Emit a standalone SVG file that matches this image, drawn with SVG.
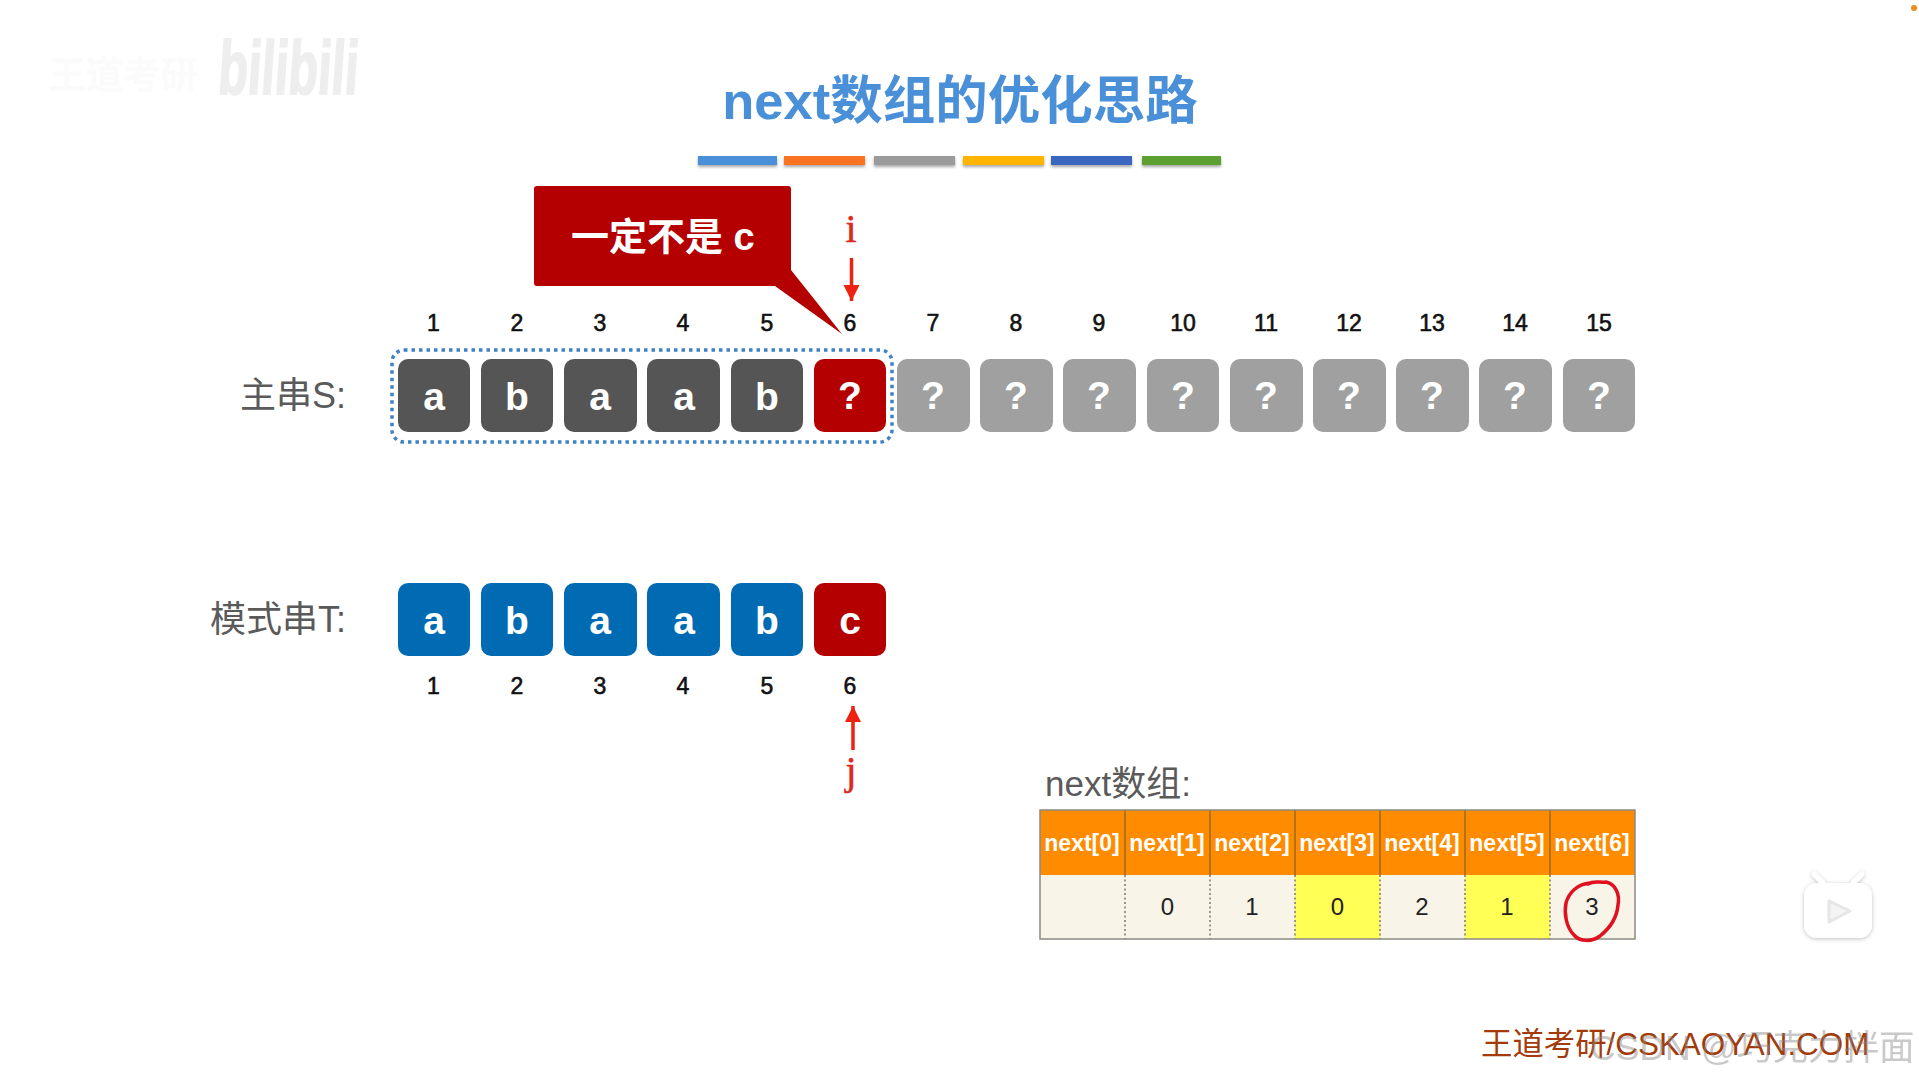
<svg xmlns="http://www.w3.org/2000/svg" width="1919" height="1079" viewBox="0 0 1919 1079">
<style>
text{font-family:"Liberation Sans","Noto Sans CJK SC",sans-serif}
.cell rect{stroke:none}
.cell text{fill:#fff;font-size:39px;font-weight:700;text-anchor:middle}
.dark rect{fill:#555}
.grey rect{fill:#a0a0a0}
.red rect{fill:#b40000}
.blue rect{fill:#006bb3}
.num{font-size:23px;fill:#111;text-anchor:middle;stroke:#111;stroke-width:.6}
.lab{font-size:36px;fill:#5a5a5a}
.ptr{font-family:"Liberation Serif",serif;font-size:40px;fill:#e0281a;text-anchor:middle;stroke:#e0281a;stroke-width:.5}
.hd{fill:#ff8c00}
.hdt{font-size:23px;font-weight:700;fill:#fff;text-anchor:middle}
.val{font-size:24px;fill:#222;text-anchor:middle}
.sep{stroke:#9a6a20;stroke-width:1.5}
.dot{stroke:#777;stroke-width:1.5;stroke-dasharray:2 2.5}
</style>
<defs>
<marker id="ah" markerUnits="userSpaceOnUse" markerWidth="18" markerHeight="18" refX="16" refY="8" orient="auto"><path d="M0 0L16 8L0 16Z" fill="#ee2211"/></marker>
<filter id="sh" x="-10%" y="-50%" width="120%" height="220%"><feDropShadow dx="0" dy="2" stdDeviation="1.5" flood-color="#000" flood-opacity=".35"/></filter>
<filter id="sh2" x="-30%" y="-30%" width="160%" height="160%"><feDropShadow dx="0" dy="1" stdDeviation="2" flood-color="#000" flood-opacity=".25"/></filter>
</defs>
<rect width="1919" height="1079" fill="#fff"/>
<g id="watermark-top">
<text x="48" y="88" font-size="38" font-weight="700" fill="#fbfbfb" textLength="150" lengthAdjust="spacingAndGlyphs">王道考研</text>
<text transform="translate(217 94) skewX(-4)" font-size="76" font-weight="700" fill="#eeeeee" stroke="#eeeeee" stroke-width="2" textLength="140" lengthAdjust="spacingAndGlyphs">bilibili</text>
</g>
<circle cx="1914" cy="8" r="3" fill="#f08a1c"/>
<g id="title">
<text x="960" y="119" font-size="52.500" font-weight="700" fill="#4a90d9" text-anchor="middle">next数组的优化思路</text>
<g filter="url(#sh)">
<rect x="698" y="156" width="79" height="9" fill="#4a90d9"/>
<rect x="784" y="156" width="81" height="9" fill="#f97320"/>
<rect x="874" y="156" width="81" height="9" fill="#9b9b9b"/>
<rect x="963" y="156" width="81" height="9" fill="#ffb400"/>
<rect x="1051" y="156" width="81" height="9" fill="#3a66c0"/>
<rect x="1142" y="156" width="79" height="9" fill="#5ba033"/>
</g>
</g>
<g id="label-s"><text class="lab" x="346" y="408" text-anchor="end">主串S:</text></g>
<g id="label-t"><text class="lab" x="346" y="632" text-anchor="end">模式串T:</text></g>
<g id="s-numbers">
<text class="num" x="433.500" y="331">1</text><text class="num" x="517" y="331">2</text><text class="num" x="600" y="331">3</text><text class="num" x="683" y="331">4</text><text class="num" x="767" y="331">5</text><text class="num" x="850" y="331">6</text><text class="num" x="933" y="331">7</text><text class="num" x="1016" y="331">8</text><text class="num" x="1099" y="331">9</text><text class="num" x="1183" y="331">10</text><text class="num" x="1266" y="331">11</text><text class="num" x="1349" y="331">12</text><text class="num" x="1432" y="331">13</text><text class="num" x="1515" y="331">14</text><text class="num" x="1599" y="331">15</text>
</g>
<g id="s-cell-1" class="cell dark"><rect x="398" y="359" width="72" height="73" rx="10"/><text x="434" y="410">a</text></g>
<g id="s-cell-2" class="cell dark"><rect x="481" y="359" width="72" height="73" rx="10"/><text x="517" y="410">b</text></g>
<g id="s-cell-3" class="cell dark"><rect x="564" y="359" width="73" height="73" rx="10"/><text x="600" y="410">a</text></g>
<g id="s-cell-4" class="cell dark"><rect x="647" y="359" width="73" height="73" rx="10"/><text x="684" y="410">a</text></g>
<g id="s-cell-5" class="cell dark"><rect x="731" y="359" width="72" height="73" rx="10"/><text x="767" y="410">b</text></g>
<g id="s-cell-6" class="cell red"><rect x="814" y="359" width="72" height="73" rx="10"/><text x="850" y="409">?</text></g>
<g id="s-cell-7" class="cell grey"><rect x="897" y="359" width="73" height="73" rx="10"/><text x="933" y="409">?</text></g>
<g id="s-cell-8" class="cell grey"><rect x="980" y="359" width="73" height="73" rx="10"/><text x="1016" y="409">?</text></g>
<g id="s-cell-9" class="cell grey"><rect x="1063" y="359" width="73" height="73" rx="10"/><text x="1099" y="409">?</text></g>
<g id="s-cell-10" class="cell grey"><rect x="1147" y="359" width="72" height="73" rx="10"/><text x="1183" y="409">?</text></g>
<g id="s-cell-11" class="cell grey"><rect x="1230" y="359" width="73" height="73" rx="10"/><text x="1266" y="409">?</text></g>
<g id="s-cell-12" class="cell grey"><rect x="1313" y="359" width="73" height="73" rx="10"/><text x="1349" y="409">?</text></g>
<g id="s-cell-13" class="cell grey"><rect x="1396" y="359" width="73" height="73" rx="10"/><text x="1432" y="409">?</text></g>
<g id="s-cell-14" class="cell grey"><rect x="1479" y="359" width="73" height="73" rx="10"/><text x="1515" y="409">?</text></g>
<g id="s-cell-15" class="cell grey"><rect x="1563" y="359" width="72" height="73" rx="10"/><text x="1599" y="409">?</text></g>
<g id="match-box"><rect x="392" y="350" width="500" height="92" rx="12" fill="none" stroke="#3f82c4" stroke-width="3.500" stroke-dasharray="3.500 4"/></g>
<g id="t-cell-1" class="cell blue"><rect x="398" y="583" width="72" height="73" rx="10"/><text x="434" y="634">a</text></g>
<g id="t-cell-2" class="cell blue"><rect x="481" y="583" width="72" height="73" rx="10"/><text x="517" y="634">b</text></g>
<g id="t-cell-3" class="cell blue"><rect x="564" y="583" width="73" height="73" rx="10"/><text x="600" y="634">a</text></g>
<g id="t-cell-4" class="cell blue"><rect x="647" y="583" width="73" height="73" rx="10"/><text x="684" y="634">a</text></g>
<g id="t-cell-5" class="cell blue"><rect x="731" y="583" width="72" height="73" rx="10"/><text x="767" y="634">b</text></g>
<g id="t-cell-6" class="cell red"><rect x="814" y="583" width="72" height="73" rx="10"/><text x="850" y="634">c</text></g>
<g id="t-numbers">
<text class="num" x="433.500" y="694">1</text><text class="num" x="517" y="694">2</text><text class="num" x="600" y="694">3</text><text class="num" x="683" y="694">4</text><text class="num" x="767" y="694">5</text><text class="num" x="850" y="694">6</text>
</g>
<g id="callout">
<path d="M537 186H788Q791 186 791 189V270L842 334L775 286H537Q534 286 534 283V189Q534 186 537 186Z" fill="#b40000"/>
<text x="571" y="250" font-size="38" font-weight="700" fill="#fff">一定不是 c</text>
</g>
<g id="pointer-i"><text class="ptr" x="851" y="242">i</text></g>
<g id="pointer-j"><text class="ptr" x="851" y="784">j</text></g>
<g id="connectors" fill="none" stroke="#ee2211" stroke-width="3.500">
<path d="M851.500 258V301" marker-end="url(#ah)"/>
<path d="M853 750V706" marker-end="url(#ah)"/>
</g>
<g id="next-label"><text class="lab" x="1045" y="796" style="font-size:35px">next数组:</text></g>
<g id="next-table">
<rect x="1040" y="810" width="595" height="65" class="hd"/>
<rect x="1040" y="875" width="595" height="64" fill="#f8f5e8"/>
<rect x="1295" y="875" width="85" height="64" fill="#ffff55"/>
<rect x="1465" y="875" width="85" height="64" fill="#ffff55"/>
<path class="sep" d="M1125 810V875M1210 810V875M1295 810V875M1380 810V875M1465 810V875M1550 810V875"/>
<path class="dot" d="M1125 875V939M1210 875V939M1295 875V939M1380 875V939M1465 875V939M1550 875V939"/>
<rect x="1040" y="810" width="595" height="129" fill="none" stroke="#8a8a80" stroke-width="1.500"/>
<text class="hdt" x="1082" y="851">next[0]</text><text class="hdt" x="1167" y="851">next[1]</text><text class="hdt" x="1252" y="851">next[2]</text><text class="hdt" x="1337" y="851">next[3]</text><text class="hdt" x="1422" y="851">next[4]</text><text class="hdt" x="1507" y="851">next[5]</text><text class="hdt" x="1592" y="851">next[6]</text>
<text class="val" x="1167.500" y="915">0</text><text class="val" x="1252" y="915">1</text><text class="val" x="1337.500" y="915">0</text><text class="val" x="1422" y="915">2</text><text class="val" x="1507" y="915">1</text><text class="val" x="1592" y="915">3</text>
</g>
<g id="circle-mark"><path d="M1588 884C1594 880 1600 883 1606 882C1616 884 1620 895 1618 905C1617 917 1610 928 1600 936C1592 942 1580 942 1574 935C1566 927 1564 913 1566 903C1569 892 1578 884 1590 883" fill="none" stroke="#e01020" stroke-width="3.500" stroke-linecap="round"/></g>
<g id="tv-icon" filter="url(#sh2)">
<path d="M1823 883L1814 874M1853 883L1862 874" stroke="#fff" stroke-width="5" stroke-linecap="round"/>
<rect x="1804" y="883" width="68" height="55" rx="13" fill="#fff"/>
<path d="M1829 901L1850 911L1829 922Z" fill="#f4f4f4" stroke="#e6e6e6" stroke-width="3" stroke-linejoin="round"/>
</g>
<g id="footer">
<text x="1481" y="1055" font-size="31.400" fill="#a33a0a">王道考研/CSKAOYAN.COM</text>
<text x="1590" y="1060" font-size="35.600" fill="#888" opacity=".45">CSDN @巧克力拌面</text>
</g>
</svg>
